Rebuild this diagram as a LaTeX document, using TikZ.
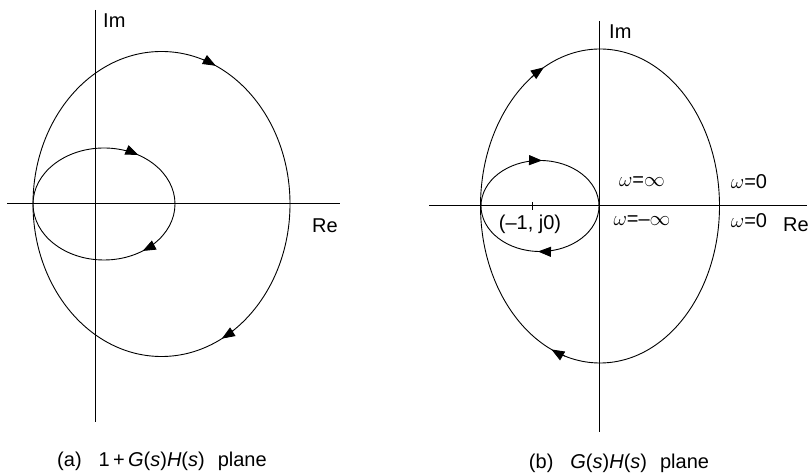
\documentclass[tikz,border=0pt]{standalone}
\usepackage{fontspec}
\setmainfont{Liberation Sans}
\usetikzlibrary{arrows.meta}
\tikzset{
  axis/.style={line width=1pt}, % the Re and Im axes
  locus/.style={line width=0.9pt}, % the closed contours
  cwtip/.style={-{Triangle[length=13pt,width=10pt]}}, % direction marks
  lbl/.style={font=\fontsize{20}{24}\selectfont, inner sep=0pt},
}

\begin{document}
\begin{tikzpicture}[x=1pt,y=1pt]
    \useasboundingbox (0,0) rectangle (809,476);

    % (a) 1+G(s)H(s) plane
    \coordinate (imAtop) at (95,466);
    \coordinate (imAbot) at (95,54);
    \coordinate (reAleft) at (7,272);
    \coordinate (reAright) at (340,272);
    \coordinate (bigA) at (161.5,272);
    \coordinate (smallA) at (104,272);

    \draw[axis] (imAtop) -- (imAbot);
    \draw[axis] (reAleft) -- (reAright);
    \draw[locus] (bigA) ellipse [x radius=128.5pt, y radius=152.5pt];
    \draw[locus] (smallA) ellipse [x radius=71pt, y radius=56pt];

    \draw[locus,cwtip] (bigA) ++(71:128.5pt and 152.5pt)
      arc[start angle=71, end angle=65, x radius=128.5pt, y radius=152.5pt];
    \draw[locus,cwtip] (bigA) ++(-56:128.5pt and 152.5pt)
      arc[start angle=-56, end angle=-62, x radius=128.5pt, y radius=152.5pt];
    \draw[locus,cwtip] (smallA) ++(70:71pt and 56pt)
      arc[start angle=70, end angle=61, x radius=71pt, y radius=56pt];
    \draw[locus,cwtip] (smallA) ++(-48:71pt and 56pt)
      arc[start angle=-48, end angle=-57, x radius=71pt, y radius=56pt];

    \node[lbl, anchor=west] (imA) at (103,455) {Im};
    \node[lbl] (reA) at (325,250) {Re};
    \node[lbl] (capA) at (162,15) {(a)\hspace{17pt}1\,+\,\textit{G}(\textit{s})\textit{H}(\textit{s})\hspace{13pt}plane};

    % (b) G(s)H(s) plane
    \coordinate (imBtop) at (599,455);
    \coordinate (imBbot) at (599,44);
    \coordinate (reBleft) at (429,270);
    \coordinate (reBright) at (807,270);
    \coordinate (bigB) at (600,270);
    \coordinate (smallB) at (540,270);
    \coordinate (tickB) at (532,270);

    \draw[axis] (imBtop) -- (imBbot);
    \draw[axis] (reBleft) -- (reBright);
    \draw[axis] (tickB) ++(0,4) -- ++(0,-8);
    \draw[locus] (bigB) ellipse [x radius=119.5pt, y radius=157pt];
    \draw[locus] (smallB) ellipse [x radius=59pt, y radius=45.5pt];

    \draw[locus,cwtip] (bigB) ++(125:119.5pt and 157pt)
      arc[start angle=125, end angle=118, x radius=119.5pt, y radius=157pt];
    \draw[locus,cwtip] (bigB) ++(-107:119.5pt and 157pt)
      arc[start angle=-107, end angle=-114, x radius=119.5pt, y radius=157pt];
    \draw[locus,cwtip] (smallB) ++(98:59pt and 45.5pt)
      arc[start angle=98, end angle=88, x radius=59pt, y radius=45.5pt];
    \draw[locus,cwtip] (smallB) ++(-82:59pt and 45.5pt)
      arc[start angle=-82, end angle=-92, x radius=59pt, y radius=45.5pt];

    \node[lbl, anchor=west] (imB) at (609,444) {Im};
    \node[lbl] (reB) at (796,251) {Re};
    \node[lbl] (pointB) at (530,252) {(--1, j0)};
    \node[lbl] (wInf) at (642,294) {$\omega$=$\infty$};
    \node[lbl] (wNegInf) at (642,255) {$\omega$=--$\infty$};
    \node[lbl] (wZeroUp) at (749,294) {$\omega$=0};
    \node[lbl] (wZeroDn) at (749,255) {$\omega$=0};
    \node[lbl] (capB) at (619,13) {(b)\hspace{17pt}\textit{G}(\textit{s})\textit{H}(\textit{s})\hspace{13pt}plane};
\end{tikzpicture}
\end{document}
